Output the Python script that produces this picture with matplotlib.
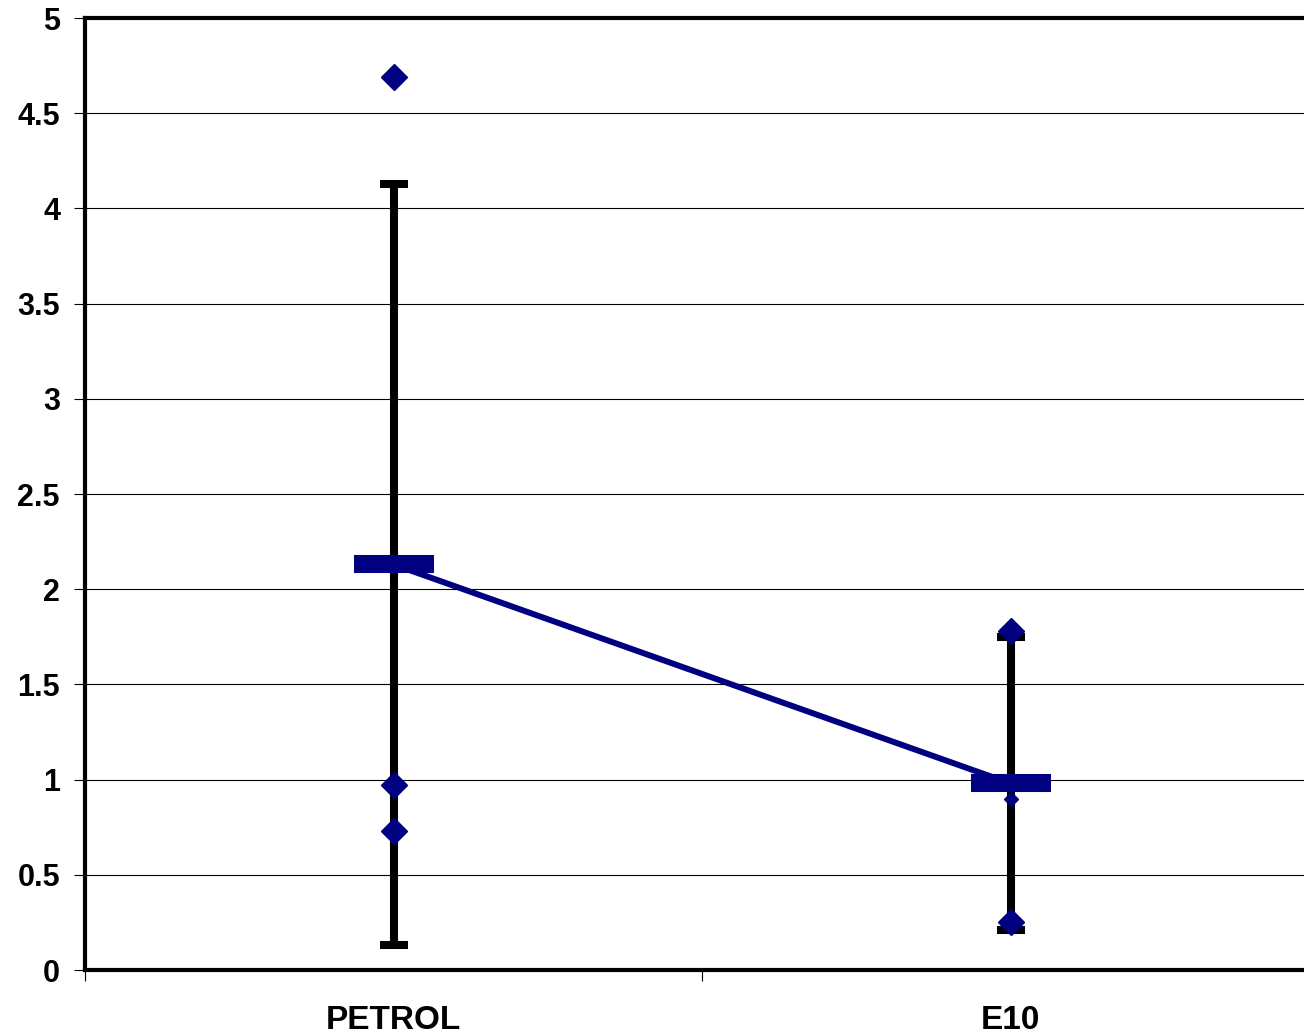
import numpy as np
import matplotlib.pyplot as plt

plt.rcParams['font.family'] = ['Liberation Sans', 'DejaVu Sans']

# Data
categories = ['PETROL', 'E10']
means = [2.13, 0.98]
err = [2.0, 0.77]
# individual points per category
points_petrol = [4.69, 0.97, 0.73]
points_e10 = [1.78, 0.25]
points_e10_small = [0.90]

navy = '#000080'
xpos = np.arange(len(categories)) + 0.5

fig = plt.figure(figsize=(13.04, 10.36), dpi=100)
ax = fig.add_axes([85 / 1304, 66 / 1036, 1234 / 1304, 952 / 1036])

# grid
ax.set_ylim(0, 5)
ax.set_xlim(0, 2)
ax.set_yticks(np.arange(0, 5.01, 0.5))
ax.set_yticklabels(['0', '0.5', '1', '1.5', '2', '2.5', '3', '3.5', '4', '4.5', '5'])
ax.yaxis.grid(True, color='black', linewidth=0.8)
ax.set_axisbelow(True)

# error bars
eb = ax.errorbar(xpos, means, yerr=err, fmt='none', ecolor='black', elinewidth=5.8,
                 capsize=10, capthick=5.8, zorder=3)

# mean line and mean markers
ax.plot(xpos, means, color=navy, linewidth=4.3, zorder=4)
ax.plot(xpos, means, linestyle='none', marker='_', markersize=58,
        markeredgewidth=13, color=navy, zorder=5)

# individual points
ax.plot([xpos[0]] * len(points_petrol), points_petrol, linestyle='none', marker='D',
        markersize=13, color=navy, zorder=6)
ax.plot([xpos[1]] * len(points_e10), points_e10, linestyle='none', marker='D',
        markersize=13, color=navy, zorder=6)
ax.plot([xpos[1]] * len(points_e10_small), points_e10_small, linestyle='none', marker='D',
        markersize=7, color=navy, zorder=4.5)

# axes styling
for side in ['left', 'bottom', 'top']:
    ax.spines[side].set_linewidth(3)
ax.spines['right'].set_visible(False)

ax.set_xticks([0, 1, 2])
ax.set_xticklabels([])
ax.set_xticks(xpos, minor=True)
ax.set_xticklabels(categories, minor=True, fontsize=24, fontweight='bold')
ax.tick_params(axis='x', which='minor', length=0, pad=25)
ax.tick_params(axis='x', which='major', length=8, width=0.8, direction='out')
ax.tick_params(axis='y', length=8, width=0.8, direction='out', pad=10,
               labelsize=22)
for lbl in ax.get_yticklabels():
    lbl.set_fontweight('bold')

fig.savefig('out.png', dpi=100)
